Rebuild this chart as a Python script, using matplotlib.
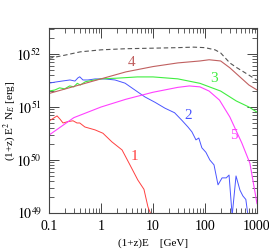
import matplotlib
matplotlib.use('Agg')
import matplotlib.pyplot as plt

plt.rcParams['font.family'] = 'serif'
plt.rcParams['font.serif'] = ['Liberation Serif', 'DejaVu Serif']
plt.rcParams['mathtext.fontset'] = 'stix'

# total (dashed)
e_tot = [0.1, 0.2, 0.4, 1, 3, 10, 30, 60, 100, 156, 200, 300, 400, 700, 1000]
f_tot = [8.3e51, 9.5e51, 1.1e52, 1.2e52, 1.26e52, 1.29e52, 1.32e52, 1.35e52,
         1.32e52, 1.2e52, 1.05e52, 6.8e51, 5.6e51, 4.0e51, 3.2e51]

# curve 1
e1 = [0.1, 0.105, 0.143, 0.163, 0.186, 0.23, 0.29, 0.345, 0.39, 0.49, 0.77,
      1.09, 1.62, 2.54, 3.6, 5.1, 6.7, 8.0, 9.3]
f1 = [5.6e50, 5.6e50, 6.8e50, 5.9e50, 5.0e50, 5.3e50, 5.5e50, 5.0e50, 5.0e50,
      4.2e50, 3.7e50, 3.2e50, 2.2e50, 1.55e50, 8.1e49, 4.2e49, 2.8e49, 1.3e49, 0.9e49]

# curve 2
e2 = [0.1, 0.13, 0.178, 0.253, 0.316, 0.36, 0.39, 0.45, 0.56, 0.77, 1.19, 1.86,
      2.9, 4.5, 7.0, 10.9, 17, 26, 36, 47, 56, 67, 76, 87, 104, 124, 149, 178,
      213, 256, 290, 333, 395, 470, 535, 610, 670]
f2 = [2.82e51, 2.95e51, 3.09e51, 3.24e51, 3.09e51, 3.55e51, 3.72e51, 3.24e51,
      3.24e51, 3.39e51, 3.39e51, 3.24e51, 2.82e51, 2.09e51, 1.55e51, 1.23e51,
      9.5e50, 7.8e50, 5.6e50, 4.2e50, 3.4e50, 2.4e50, 2.6e50, 1.7e50, 1.4e50,
      1.0e50, 8.1e49, 3.4e49, 4.6e49, 4.6e49, 5.2e49, 0.9e49, 5.0e49, 2.7e49,
      2.1e49, 1.8e49, 0.9e49]

# curve 3
e3 = [0.1, 0.13, 0.16, 0.2, 0.25, 0.3, 0.35, 0.4, 0.5, 0.7, 1, 2, 5, 10, 30,
      80, 200, 400, 700, 1000]
f3 = [2.0e51, 2.1e51, 2.3e51, 2.2e51, 2.5e51, 2.4e51, 2.8e51, 2.6e51, 3.0e51,
      3.2e51, 3.4e51, 3.5e51, 3.7e51, 3.7e51, 3.4e51, 2.8e51, 2.0e51, 1.3e51,
      1.0e51, 8.0e50]

# curve 4
e4 = [0.1, 1, 3, 10, 30, 80, 120, 200, 300, 500, 700, 1000]
f4 = [1.8e51, 3.4e51, 4.6e51, 5.8e51, 6.8e51, 7.4e51, 7.8e51, 7.4e51, 5.5e51,
      3.5e51, 2.6e51, 2.1e51]

# curve 5
e5 = [0.1, 0.3, 1, 3, 10, 30, 50, 80, 120, 190, 300, 510, 730, 950, 1000]
f5 = [2.95e50, 6.3e50, 1.0e51, 1.4e51, 1.9e51, 2.35e51, 2.5e51, 2.4e51,
      2.0e51, 1.35e51, 6.5e50, 2.1e50, 8.7e49, 2.0e49, 1.5e49]

fig = plt.figure(figsize=(2.69, 2.49), dpi=100)
ax = fig.add_axes([49/269, 36/249, 208/269, 185/249])

ax.plot(e_tot, f_tot, color='#555555', lw=0.8, dashes=(4, 2.5))
ax.plot(e1, f1, color='#ff4040', lw=0.7)
ax.plot(e2, f2, color='#4a55ff', lw=0.7)
ax.plot(e3, f3, color='#40ee40', lw=0.8)
ax.plot(e4, f4, color='#c06060', lw=0.8)
ax.plot(e5, f5, color='#ff40ff', lw=0.8)

ax.text(4.5, 1.15e50, '1', color='#ff4040', fontsize=11, ha='center', va='center')
ax.text(47, 7.0e50, '2', color='#4a55ff', fontsize=11, ha='center', va='center')
ax.text(148, 3.4e51, '3', color='#40ee40', fontsize=11, ha='center', va='center')
ax.text(3.8, 6.8e51, '4', color='#c06060', fontsize=11, ha='center', va='center')
ax.text(363, 2.95e50, '5', color='#ff40ff', fontsize=11, ha='center', va='center')

ax.set_xscale('log')
ax.set_yscale('log')
ax.set_xlim(0.1, 1000)
ax.set_ylim(1e49, 3.1e52)
ax.set_xticks([0.1, 1, 10, 100, 1000])
ax.set_xticklabels(['0.1', '1', '10', '100', '1000'])
ax.set_yticks([1e49, 1e50, 1e51, 1e52])
ax.set_yticklabels(['$10^{49}$', '$10^{50}$', '$10^{51}$', '$10^{52}$'])
ax.tick_params(which='both', direction='in', top=True, right=True,
               color='#444444', labelsize=10, pad=5)
ax.tick_params(which='major', length=7, width=0.7)
ax.tick_params(which='minor', length=3.5, width=0.6)
for s in ax.spines.values():
    s.set_color('#444444')
    s.set_linewidth(0.8)

ax.set_xlabel('(1+z)E    [GeV]', fontsize=8, labelpad=4)
ax.set_ylabel('(1+z) E$^2$ N$_E$ [erg]', fontsize=8)
ax.yaxis.set_label_coords(-0.15, 0.5)

fig.savefig('out.png', dpi=100)
